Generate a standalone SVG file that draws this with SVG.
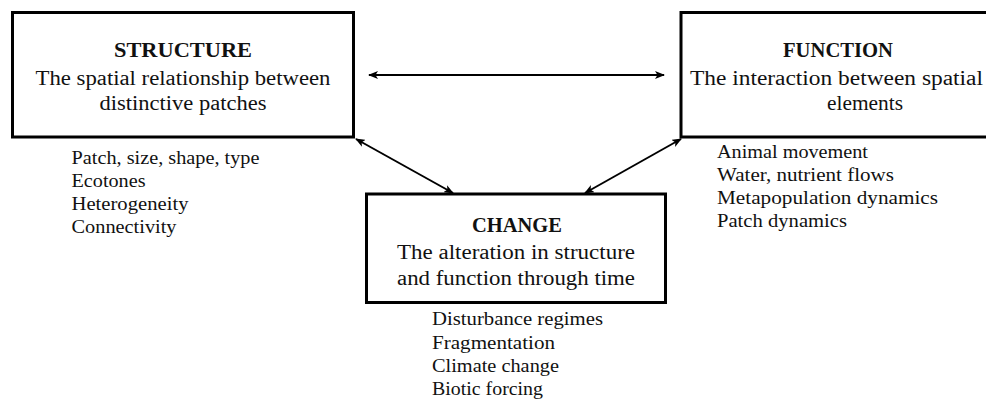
<svg xmlns="http://www.w3.org/2000/svg" width="986" height="401" viewBox="0 0 986 401">
<style>
  .box { fill: #ffffff; stroke: #000000; stroke-width: 3; }
  .title { font-family: "Liberation Serif", "DejaVu Serif", serif; font-weight: bold; font-size: 20px; fill: #111111; text-anchor: middle; }
  .sub { font-family: "Liberation Serif", "DejaVu Serif", serif; font-size: 20px; fill: #111111; text-anchor: middle; }
  .item { font-family: "Liberation Serif", "DejaVu Serif", serif; font-size: 18.5px; fill: #111111; }
  .conn { stroke: #000000; stroke-width: 2; fill: none; marker-start: url(#ah); marker-end: url(#ah); }
</style>
<defs>
  <marker id="ah" viewBox="0 0 10 8" refX="9" refY="4" markerWidth="5" markerHeight="4" orient="auto-start-reverse" markerUnits="strokeWidth">
    <path d="M0,0 L10,4 L0,8 L2.5,4 Z" fill="#000000"/>
  </marker>
</defs>
<rect width="986" height="401" fill="#ffffff"/>
<g id="connectors">
  <line class="conn" x1="369" y1="75" x2="664" y2="75"/>
  <line class="conn" x1="356" y1="139" x2="453" y2="193"/>
  <line class="conn" x1="681" y1="139" x2="585" y2="193"/>
</g>
<g id="structure">
  <rect class="box" x="12.5" y="12.5" width="341" height="124.5"/>
  <text class="title" x="183" y="57" textLength="138" lengthAdjust="spacingAndGlyphs">STRUCTURE</text>
  <text class="sub" x="183" y="85" textLength="295" lengthAdjust="spacingAndGlyphs">The spatial relationship between</text>
  <text class="sub" x="183" y="110" textLength="167" lengthAdjust="spacingAndGlyphs">distinctive patches</text>
  <text class="item" x="71.5" y="164" textLength="188" lengthAdjust="spacingAndGlyphs">Patch, size, shape, type</text>
  <text class="item" x="71.5" y="187" textLength="74" lengthAdjust="spacingAndGlyphs">Ecotones</text>
  <text class="item" x="71.5" y="210" textLength="117" lengthAdjust="spacingAndGlyphs">Heterogeneity</text>
  <text class="item" x="71.5" y="233" textLength="105" lengthAdjust="spacingAndGlyphs">Connectivity</text>
</g>
<g id="function">
  <rect class="box" x="681" y="12.5" width="380" height="124.5"/>
  <text class="title" x="838" y="57" textLength="110" lengthAdjust="spacingAndGlyphs">FUNCTION</text>
  <text class="sub" x="836.5" y="85" textLength="293" lengthAdjust="spacingAndGlyphs">The interaction between spatial</text>
  <text class="sub" x="865" y="110" textLength="76" lengthAdjust="spacingAndGlyphs">elements</text>
  <text class="item" x="717" y="157.5" textLength="151" lengthAdjust="spacingAndGlyphs">Animal movement</text>
  <text class="item" x="717" y="180.5" textLength="177" lengthAdjust="spacingAndGlyphs">Water, nutrient flows</text>
  <text class="item" x="717" y="204" textLength="221" lengthAdjust="spacingAndGlyphs">Metapopulation dynamics</text>
  <text class="item" x="717" y="227" textLength="130" lengthAdjust="spacingAndGlyphs">Patch dynamics</text>
</g>
<g id="change">
  <rect class="box" x="366.5" y="194" width="299" height="108.5"/>
  <text class="title" x="517" y="232" textLength="90" lengthAdjust="spacingAndGlyphs">CHANGE</text>
  <text class="sub" x="516" y="259" textLength="238" lengthAdjust="spacingAndGlyphs">The alteration in structure</text>
  <text class="sub" x="516" y="285" textLength="238" lengthAdjust="spacingAndGlyphs">and function through time</text>
  <text class="item" x="432" y="325" textLength="171" lengthAdjust="spacingAndGlyphs">Disturbance regimes</text>
  <text class="item" x="432" y="348.5" textLength="123" lengthAdjust="spacingAndGlyphs">Fragmentation</text>
  <text class="item" x="432" y="372" textLength="127" lengthAdjust="spacingAndGlyphs">Climate change</text>
  <text class="item" x="432" y="395" textLength="111" lengthAdjust="spacingAndGlyphs">Biotic forcing</text>
</g>
</svg>
